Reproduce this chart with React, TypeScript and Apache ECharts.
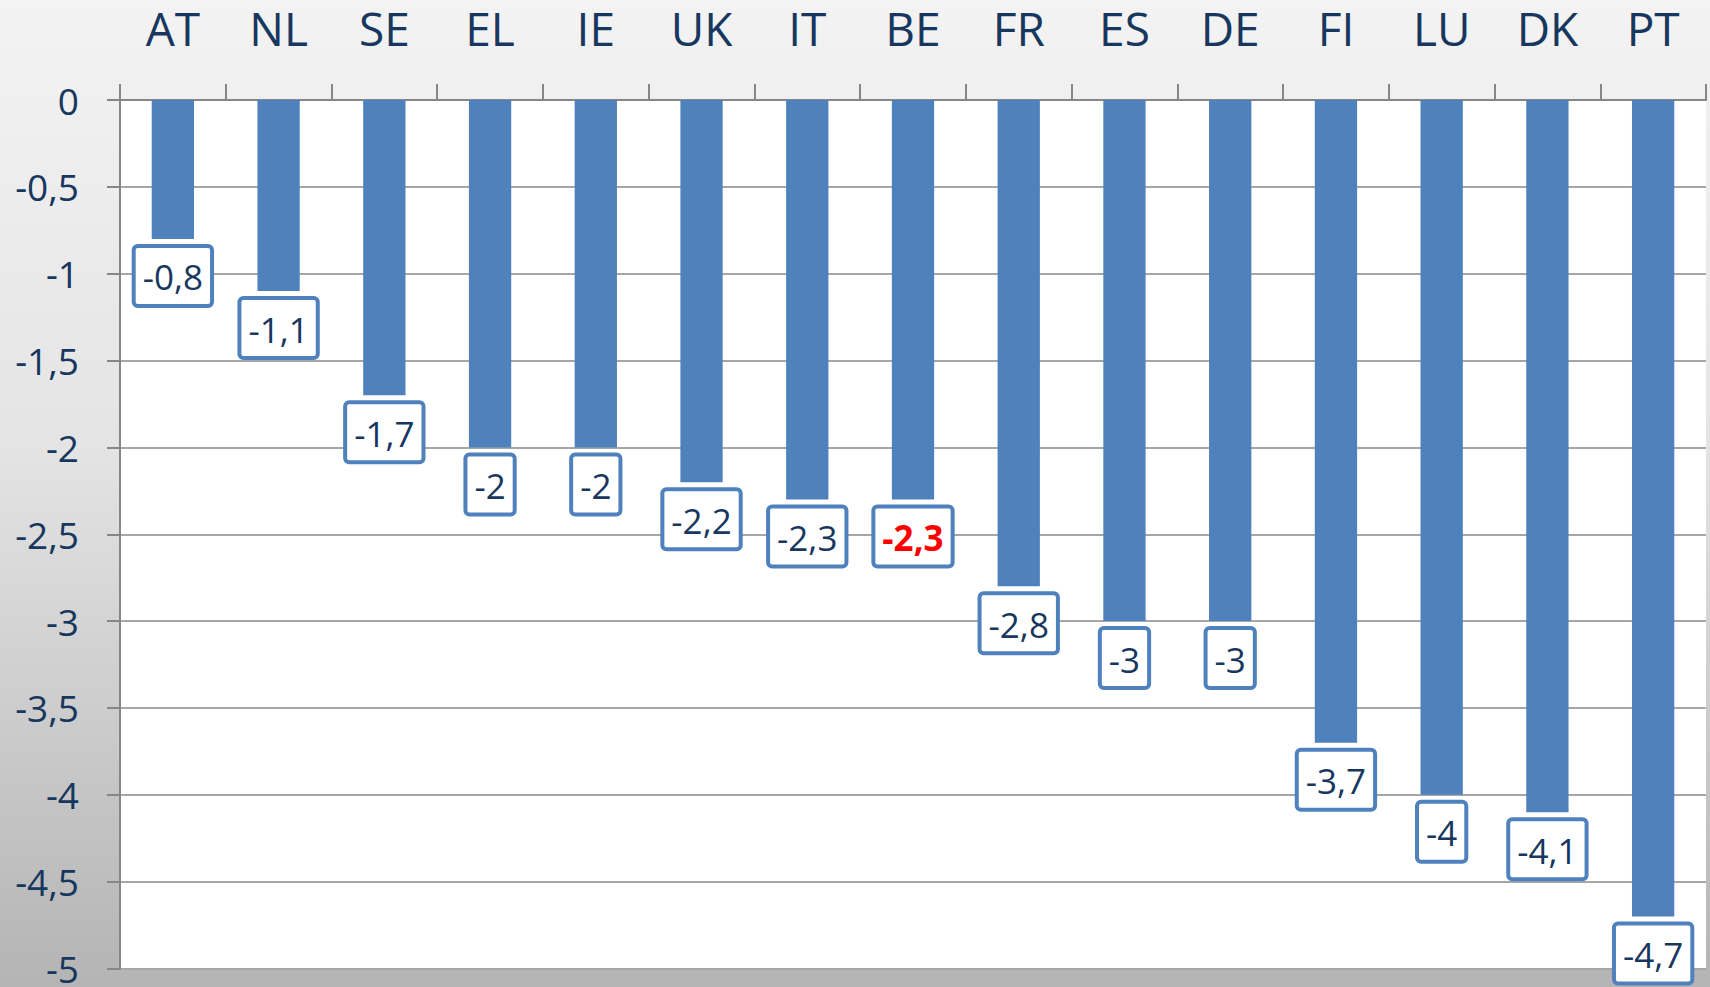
import React, { useEffect, useRef } from "react";
import * as echarts from "echarts";

const categories = ["AT", "NL", "SE", "EL", "IE", "UK", "IT", "BE", "FR", "ES", "DE", "FI", "LU", "DK", "PT"];
const values = [-0.8, -1.1, -1.7, -2, -2, -2.2, -2.3, -2.3, -2.8, -3, -3, -3.7, -4, -4.1, -4.7];
const highlighted = ["BE"];

const fontFamily = "'Open Sans', 'Noto Sans', sans-serif";
const navy = "#17375E";
const barBlue = "#4F81BD";

const fmt = (v: number) => String(v).replace(".", ",");

export default function App() {
  const ref = useRef<HTMLDivElement>(null);
  useEffect(() => {
    document.body.style.margin = "0";
    if (!ref.current) return;
    const chart = echarts.init(ref.current, null, { renderer: "svg" });
    const data = values.map((v, i) => {
      const hi = highlighted.includes(categories[i]);
      return {
        value: v,
        label: hi ? { color: "#FF0000", fontWeight: "bold" as const } : undefined,
      };
    });
    chart.setOption({
      animation: false,
      backgroundColor: {
        type: "linear",
        x: 0, y: 0, x2: 0, y2: 1,
        colorStops: [
          { offset: 0, color: "#F3F3F3" },
          { offset: 0.45, color: "#E4E4E4" },
          { offset: 1, color: "#B4B4B4" },
        ],
      },
      grid: {
        left: 120, top: 100, right: 4, bottom: 14,
        show: true, backgroundColor: "#FFFFFF", borderWidth: 0,
      },
      xAxis: {
        type: "category",
        position: "top",
        data: categories,
        axisLine: { lineStyle: { color: "#868686", width: 2 } },
        axisTick: { show: true, length: 16, lineStyle: { color: "#868686", width: 2 } },
        axisLabel: { color: navy, fontSize: 46, lineHeight: 40, fontFamily, margin: 52, interval: 0 },
      },
      yAxis: {
        type: "value",
        min: -5, max: 0, interval: 0.5,
        axisLine: { show: true, lineStyle: { color: "#868686", width: 2 } },
        axisTick: { show: true, length: 13, lineStyle: { color: "#868686", width: 2 } },
        splitLine: { show: true, lineStyle: { color: "#A6A6A6", width: 2 } },
        axisLabel: { color: navy, fontSize: 37, fontFamily, margin: 41, formatter: (v: number) => fmt(v) },
      },
      series: [
        {
          type: "bar",
          data,
          barWidth: "40%",
          itemStyle: { color: barBlue },
          label: {
            show: true,
            position: "bottom",
            distance: 9,
            formatter: (p: any) => fmt(p.value),
            color: navy,
            fontSize: 35,
            fontFamily,
            backgroundColor: "#FFFFFF",
            borderColor: barBlue,
            borderWidth: 4,
            borderRadius: 2,
            padding: [9, 7, 7, 7],
            lineHeight: 40,
          },
        },
      ],
    });
    return () => chart.dispose();
  }, []);
  return <div ref={ref} style={{ width: 1710, height: 987 }} />;
}
